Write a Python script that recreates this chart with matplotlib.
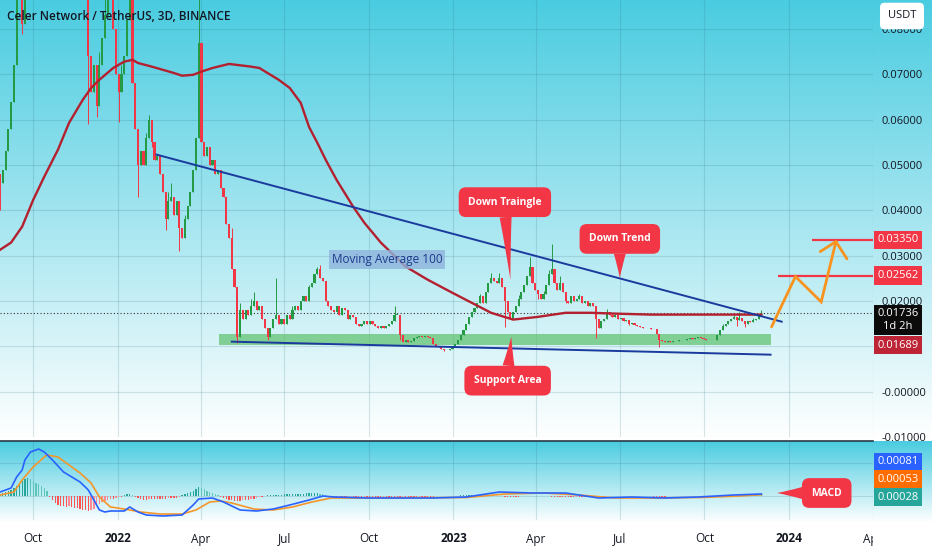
import numpy as np
import pandas as pd
import matplotlib
matplotlib.use("Agg")
import matplotlib.pyplot as plt
import matplotlib.dates as mdates
from matplotlib.transforms import blended_transform_factory
from matplotlib.patches import Rectangle

plt.rcParams["font.family"] = ["Open Sans", "DejaVu Sans"]

# --- data (CELR/USDT, 3D candles from 2021-08-26) ---
start_date = "2021-08-26"
closes = [
    0.046, 0.049, 0.053, 0.058, 0.064, 0.072, 0.088, 0.095, 0.081, 0.094, 0.100,
    0.098, 0.092, 0.095, 0.100, 0.105, 0.110, 0.100, 0.095, 0.092, 0.100,
    0.105, 0.110, 0.120, 0.115, 0.130, 0.150, 0.170, 0.180, 0.175, 0.160, 0.140,
    0.074, 0.066, 0.072, 0.063, 0.072, 0.078, 0.083, 0.090, 0.088, 0.080,
    0.070, 0.066, 0.070, 0.074, 0.082, 0.090, 0.068, 0.058,
    0.050, 0.053, 0.050, 0.056, 0.060, 0.055, 0.051, 0.052, 0.048, 0.044, 0.038,
    0.042, 0.043, 0.039, 0.042, 0.036, 0.034, 0.038, 0.041, 0.044, 0.049, 0.056,
    0.077, 0.055, 0.052, 0.054, 0.050, 0.051, 0.048, 0.049, 0.045, 0.043, 0.037,
    0.034, 0.027, 0.023, 0.012,
    0.018, 0.016, 0.018, 0.017, 0.019, 0.020, 0.018, 0.019, 0.016, 0.014,
    0.012, 0.014, 0.016, 0.017, 0.015, 0.016, 0.015, 0.017, 0.016, 0.018,
    0.019, 0.018, 0.020, 0.021, 0.020, 0.023, 0.024, 0.026, 0.027, 0.025,
    0.0245, 0.020, 0.019, 0.018, 0.0175, 0.019, 0.017, 0.0185, 0.018, 0.016,
    0.017, 0.0165, 0.015, 0.0145, 0.015, 0.0155, 0.015, 0.0155, 0.015, 0.0145,
    0.014, 0.0145, 0.014, 0.0145, 0.015, 0.0155, 0.017,
    0.017, 0.0125, 0.011, 0.0115, 0.0110, 0.0112, 0.0118, 0.0120, 0.0122, 0.0120,
    0.0123, 0.0120, 0.0118, 0.0105, 0.0100, 0.0098, 0.0095, 0.0093, 0.0092,
    0.0095, 0.0100, 0.0105, 0.0115, 0.0125, 0.0135, 0.0150, 0.0165, 0.0175, 0.0185,
    0.0195, 0.0210, 0.0195, 0.0220, 0.0240, 0.0250, 0.0245, 0.0240, 0.0250, 0.0230,
    0.0200, 0.0175, 0.0160, 0.0175, 0.0190, 0.0205, 0.0220, 0.0235, 0.0255, 0.0275,
    0.0240, 0.0225, 0.0215, 0.0205, 0.0215, 0.0235, 0.0260,
    0.0270, 0.0240, 0.0225, 0.0240, 0.0220, 0.0200, 0.0195, 0.0210, 0.0200, 0.0205,
    0.0210, 0.0195, 0.0200, 0.0190, 0.0195, 0.0190, 0.0160, 0.0140, 0.0155, 0.0160,
    0.0175, 0.0170, 0.0165, 0.0170, 0.0160, 0.0162, 0.0155, 0.0158, 0.0150, 0.0152,
    0.0148, 0.0145, 0.0143, 0.0140, 0.0141, 0.0140, 0.0139, 0.0138,
    0.0128, 0.0115, 0.0112, 0.0110, 0.0112, 0.0110, 0.0111, 0.0112, 0.0113, 0.0115,
    0.0114, 0.0116, 0.0118, 0.0117, 0.0119, 0.0120, 0.0118, 0.0117, 0.0115, 0.0114,
    0.0113, 0.0115, 0.0125, 0.0135, 0.0145, 0.0150, 0.0155, 0.0160, 0.0165, 0.0158,
    0.0163, 0.0155, 0.0150, 0.0155, 0.0153, 0.0158, 0.0160, 0.0167, 0.0174,
]
first_open = 0.048
# wicks that reach past the body (candle index -> price)
highs = {6: 0.095, 8: 0.095, 36: 0.075, 38: 0.088, 44: 0.072, 47: 0.095, 53: 0.057,
         54: 0.061, 61: 0.044, 62: 0.046, 67: 0.039, 72: 0.095, 84: 0.036, 87: 0.0195,
         91: 0.0205, 92: 0.022, 100: 0.025, 106: 0.019, 112: 0.0235, 115: 0.0275,
         116: 0.028, 143: 0.019, 174: 0.0215, 178: 0.0262, 181: 0.0262, 188: 0.0213,
         192: 0.0298, 197: 0.0222, 199: 0.0268, 200: 0.0325, 203: 0.0255, 210: 0.0215,
         220: 0.0182, 262: 0.0150, 266: 0.0170, 268: 0.0175, 273: 0.0163, 276: 0.0181}
lows = {0: 0.040, 8: 0.079, 32: 0.059, 35: 0.0605, 43: 0.0595, 50: 0.043, 55: 0.054,
        60: 0.0357, 65: 0.031, 69: 0.042, 86: 0.0107, 97: 0.0115, 145: 0.0115,
        161: 0.0089, 183: 0.0143, 195: 0.0205, 205: 0.0195, 216: 0.0119, 228: 0.0147,
        239: 0.0099, 267: 0.0145, 270: 0.0143}

# Moving Average 100 (candle index -> value)
ma_idx = [0, 4, 8, 12, 16, 21, 25, 30, 33, 36, 41, 45, 48, 50, 55, 59, 63, 66, 70, 73,
          77, 83, 91, 94, 101, 105, 109, 112, 115, 118, 122, 128, 132, 138, 147, 155,
          164, 171, 178, 186, 195, 205, 214, 224, 236, 254, 276]
ma_val = [0.0313, 0.0329, 0.0364, 0.0423, 0.0474, 0.0534, 0.0593, 0.0644, 0.0670, 0.0688,
          0.0714, 0.0728, 0.0732, 0.0725, 0.0717, 0.0710, 0.0703, 0.0697, 0.0699, 0.0706,
          0.0714, 0.0723, 0.0717, 0.0714, 0.0688, 0.0670, 0.0637, 0.0584, 0.0549, 0.0512,
          0.0467, 0.0408, 0.0373, 0.0329, 0.0276, 0.0247, 0.0218, 0.0196, 0.0174, 0.0159,
          0.0165, 0.0174, 0.0174, 0.0172, 0.0170, 0.0170, 0.0170]

# MACD line and signal (candle index -> value)
macd_idx = [0, 4, 6, 8, 9, 11, 13, 14, 16, 19, 23, 26, 29, 32, 35, 36, 38, 40, 45, 47,
            50, 53, 59, 66, 70, 72, 77, 81, 87, 93, 99, 105, 112, 117, 121, 133, 157,
            169, 181, 193, 205, 217, 229, 241, 253, 266, 276]
macd_val = [0.0016, 0.0032, 0.0076, 0.0104, 0.0144, 0.0176, 0.0184, 0.0188, 0.0176, 0.0144,
            0.0096, 0.0076, 0.0056, 0.0024, -0.0036, -0.0056, -0.0064, -0.0060, -0.0060,
            -0.0044, -0.0064, -0.0076, -0.0080, -0.0076, -0.0036, -0.0012, -0.0008, -0.0024,
            -0.0056, -0.0060, -0.0052, -0.0036, -0.0016, 0.0, -0.0004, -0.0008, -0.0008,
            -0.0004, 0.0016, 0.0012, 0.0012, -0.0008, -0.0004, -0.0008, -0.0004, 0.0004,
            0.00081]
signal_idx = [0, 5, 8, 12, 16, 17, 21, 24, 29, 33, 36, 40, 45, 51, 58, 66, 71, 76, 80,
              84, 92, 99, 106, 113, 120, 133, 169, 183, 197, 210, 223, 236, 254, 268, 276]
signal_val = [0.0004, 0.0016, 0.0064, 0.0116, 0.0156, 0.0164, 0.0156, 0.0132, 0.0092,
              0.0052, -0.0004, -0.0044, -0.0052, -0.0064, -0.0072, -0.0072, -0.0056,
              -0.0024, -0.0020, -0.0028, -0.0052, -0.0056, -0.0044, -0.0024, -0.0008,
              -0.0008, -0.0006, 0.0008, 0.0012, 0.0004, -0.0008, -0.0008, -0.0006, 0.0,
              0.00053]
# MACD histogram per candle, in units of 1e-4
hist_e4 = [
    8, 12, 16, 20, 24, 32, 40, 48, 60, 68, 72, 68, 60, 52, 48, 40, 32, 20,
    -4, -16, -28, -36, -40, -40, -44, -40, -44, -48, -48, -52, -56, -56, -60, -56, -52,
    -40, -32, -24, -20, -16, -12, -12, -8, -4, -4,
    4, 8, 8, 4, -4,
    -8, -12, -16, -16, -12, -12, -12, -12, -12, -12, -12, -8, -8, -8, -8, -4,
    4, 8, 12, 16, 20, 28, 36, 32, 28, 20, 16, 12, 8, 4,
    -4, -8, -12, -16, -16, -20, -20, -20, -16, -16, -16, -12, -12, -8, -4, -4, 2,
    4, 4, 4, 6, 6, 6, 8, 8, 8, 8, 8, 8, 10, 10, 12, 12, 12, 12, 12, 10, 8, 4, 2,
    -2, -4, -4, -4, -6, -6, -6, -4, -4, -4, -4, -4, -2, -2, -4, -4, -4, -4, -4, -2,
    -2, -2, -4, -4, -4, -4, -2, -2, -2, -4, -4, -4, -2, -2, -2, -2, -2, -2, -1, -1,
    -1, -1, -1, 1, 1, 2,
    2, 3, 4, 4, 5, 5, 4, 4, 4, 3, 3, 2, 2, 2, 1, 1,
    -1, -2, -2, -2, -2, -2, -2, -1, -1, 1, 2, 2, 2, 1, 1, 1, -1, -1, -2,
    -2, -2, -3, -3, -3, -3, -3, -3, -2, -2, -2, -2, -2, -2, -2, -2, -2, -2, -2, -1,
    -1, -1, -1, -1, -1, -0.5, -0.5, 0.5, 0.5, 0.5,
    0.5, 0.5, 0.5, -0.5, -1, -1, -2, -2, -2, -2, -2, -1, -1, -1, -1, -0.5, -0.5, 0.5,
    0.5, 1, 1, 1, 1, 1, 1, 1, 1, 1, 1, 1,
    1, 1.5, 1.5, 1.5, 2, 2, 2, 2, 2, 2, 2.5, 2.5, 2.5, 2.8, 2.8, 2.8,
]

# drawings on the chart
upper_trend = (["2022-02-12", "2023-12-24"], [0.0523, 0.01544])
lower_trend = (["2022-05-05", "2023-12-12"], [0.01103, 0.00816])
support_zone = ("2022-04-21", "2023-12-12", 0.01036, 0.01279)
targets = [("2024-01-26", 0.03350), ("2023-12-20", 0.02562)]
path_dates = ["2023-12-13", "2024-01-08", "2024-02-05", "2024-02-21"]
path_prices = [0.0143, 0.0254, 0.0198, 0.0331]
head_dates = ["2024-02-04", "2024-02-21", "2024-03-04"]
head_prices = [0.0309, 0.0331, 0.0293]
last_price = 0.01736

# --- derived candle fields ---
n = len(closes)
dates = mdates.date2num(pd.date_range(start_date, periods=n, freq="3D").to_pydatetime())
closes = np.array(closes)
opens = np.r_[first_open, closes[:-1]]
hi = np.array([max(opens[i], closes[i], highs.get(i, 0)) for i in range(n)])
lo = np.array([min(opens[i], closes[i], lows.get(i, 1)) for i in range(n)])
up = closes >= opens

def d(s):
    return mdates.date2num(pd.Timestamp(s).to_pydatetime())

W, H = 932, 550
RED = "#f23645"
GREEN = "#249a45"
INK = "#131722"

fig = plt.figure(figsize=(W / 100, H / 100), dpi=100)

# gradient background (both panes fade from cyan to white)
cyan = np.array([0.29, 0.80, 0.88])
white = np.ones(3)
rows = np.ones((H, 1, 3))
for r in range(H):
    if r <= 437:
        t = r / 437
    elif 441 <= r <= 522:
        t = (r - 441) / 81
    else:
        t = 1.0
    rows[r, 0] = cyan * (1 - t) + white * t
bg = fig.add_axes([0, 0, 1, 1], zorder=-10)
bg.imshow(rows, extent=[0, 1, 0, 1], aspect="auto")
bg.axis("off")

def frac(x0, y0, x1, y1):
    return [x0 / W, 1 - y1 / H, (x1 - x0) / W, (y1 - y0) / H]

ax = fig.add_axes(frac(0, 0, 873, 437))
mx = fig.add_axes(frac(0, 441, 873, 520), sharex=ax)
for a in (ax, mx):
    a.set_facecolor("none")
    for s in a.spines.values():
        s.set_visible(False)

xmin, xmax = d("2021-08-25 22:00"), d("2024-04-01 08:00")
ax.set_xlim(xmin, xmax)
ax.set_ylim(-0.00992, 0.0864)

month_ticks = [d(s) for s in ["2021-10-01", "2022-01-01", "2022-04-01", "2022-07-01",
                              "2022-10-01", "2023-01-01", "2023-04-01", "2023-07-01",
                              "2023-10-01", "2024-01-01", "2024-04-01"]]
month_labels = ["Oct", "2022", "Apr", "Jul", "Oct", "2023", "Apr", "Jul", "Oct", "2024", "Apr"]

price_ticks = np.arange(-0.01, 0.085, 0.01)
# 0.01000 sits under the last-price labels, so it stays blank
tick_text = ["-0.01000", "-0.00000", ""] + ["%.5f" % v for v in price_ticks[3:]]
ax.set_yticks(price_ticks)
ax.set_yticklabels(tick_text)
ax.yaxis.tick_right()
ax.tick_params(axis="y", length=0, pad=6, labelsize=8, labelcolor=INK)
ax.tick_params(axis="x", length=0, labelbottom=False)
ax.set_xticks(month_ticks)
ax.grid(True, color="#2f6f80", alpha=0.18, lw=0.8)
ax.set_axisbelow(True)

# candles
cols = np.where(up, GREEN, RED)
ax.vlines(dates, lo, hi, colors=cols, lw=0.7, zorder=3)
body = np.where(np.abs(closes - opens) < 0.00008, 0.00008, closes - opens)
ax.bar(dates, body, bottom=opens, width=2.3, color=cols, lw=0, zorder=3)

# moving average 100
ax.plot(dates[ma_idx], ma_val, color="#b3202f", lw=1.7, zorder=4)
ax.text(d("2022-10-21"), 0.0292, "Moving Average 100", ha="center", va="center",
        fontsize=8.5, color="#1c3a8c", zorder=5,
        bbox=dict(boxstyle="square,pad=0.25", fc="#8fb4dc", ec="none", alpha=0.8))

# trend lines and support zone
ax.plot([d(s) for s in upper_trend[0]], upper_trend[1], color="#1a3a9e", lw=1.4, zorder=4)
ax.plot([d(s) for s in lower_trend[0]], lower_trend[1], color="#1a3a9e", lw=1.4, zorder=4)
z0, z1, zlo, zhi = support_zone
ax.add_patch(Rectangle((d(z0), zlo), d(z1) - d(z0), zhi - zlo, fc="#5cc06c", ec="none",
                       alpha=0.7, zorder=2))

# current price line
ax.axhline(last_price, color="#333333", lw=0.8, ls=(0, (1, 2)), zorder=2)

# targets and projected path
for td, tp in targets:
    ax.hlines(tp, d(td), xmax, color=RED, lw=1.6, zorder=4)
ax.plot([d(s) for s in path_dates], path_prices, color="#f7931e", lw=2.0,
        solid_capstyle="round", solid_joinstyle="miter", zorder=5)
ax.plot([d(s) for s in head_dates], head_prices, color="#f7931e", lw=2.0,
        solid_capstyle="round", zorder=5)

# callouts
def callout(a, text, tip, box, rel):
    a.annotate(text, xy=(d(tip[0]), tip[1]), xytext=(d(box[0]), box[1]),
               ha="center", va="center", color="white", fontsize=7.5, fontweight="bold",
               zorder=6, annotation_clip=False,
               bbox=dict(boxstyle="round,pad=0.9,rounding_size=0.7", fc=RED, ec="none"),
               arrowprops=dict(arrowstyle="wedge,tail_width=1.15,shrink_factor=0.45",
                               fc=RED, ec="none", relpos=rel, shrinkA=0, shrinkB=0))

callout(ax, "Down Traingle", ("2023-03-04", 0.0247), ("2023-02-26", 0.0418), (0.5, 0.0))
callout(ax, "Down Trend", ("2023-07-01", 0.0251), ("2023-07-01", 0.0337), (0.5, 0.0))
callout(ax, "Support Area", ("2023-03-05", 0.0121), ("2023-03-01", 0.00243), (0.5, 1.0))

# price scale labels
bt = blended_transform_factory(ax.transAxes, ax.transData)
for td, tp in targets:
    ax.text(1.0286, tp, "%.5f" % tp, transform=bt, ha="center", va="center", fontsize=8,
            color="white", zorder=6,
            bbox=dict(boxstyle="square,pad=0.32", fc=RED, ec="none"))
fig.text(898 / W, 1 - 320 / H, "0.01736\n1d 2h", ha="center", va="center",
         fontsize=8, color="white", zorder=6, linespacing=1.15,
         bbox=dict(boxstyle="square,pad=0.28", fc="#0b0b0b", ec="none"))
fig.text(898 / W, 1 - 345 / H, "0.01689", ha="center", va="center", fontsize=8,
         color="white", zorder=6, bbox=dict(boxstyle="square,pad=0.3", fc="#bd2536", ec="none"))
fig.text(902 / W, 1 - 16 / H, "USDT", ha="center", va="center", fontsize=8, color=INK,
         zorder=7, bbox=dict(boxstyle="round,pad=0.7,rounding_size=0.4", fc="white", ec="none"))

# title
fig.text(7 / W, 1 - 16 / H, "Celer Network / TetherUS, 3D, BINANCE", ha="left", va="center",
         fontsize=8.5, fontweight="semibold", color=INK)

# --- MACD pane ---
mx.set_ylim(-0.0096, 0.022)
mx.set_yticks([0.0, 0.0132])
mx.tick_params(axis="y", length=0, labelleft=False, labelright=False)
mx.grid(True, color="#2f6f80", alpha=0.18, lw=0.8)
mx.set_axisbelow(True)
mx.spines["top"].set_visible(True)
mx.spines["top"].set_color("#2a3a44")
mx.spines["top"].set_linewidth(1.2)

hist = np.array(hist_e4) * 1e-4
prev = np.r_[0, hist[:-1]]
hcol = np.where(hist >= 0, np.where(hist >= prev, "#26a69a", "#5cc4b9"),
                np.where(hist <= prev, "#ff5252", "#ff8a93"))
mx.bar(dates, hist, width=1.4, color=hcol, lw=0, zorder=2)
mx.plot(dates[signal_idx], signal_val, color="#f5962a", lw=1.2, zorder=3)
mx.plot(dates[macd_idx], macd_val, color="#2962ff", lw=1.2, zorder=4)

callout(mx, "MACD", ("2023-12-19", 0.0012), ("2024-02-11", 0.0012), (0.0, 0.5))

for yy, txt, fc in [(462, "0.00081", "#2962ff"), (479, "0.00053", "#ff6d00"),
                    (497, "0.00028", "#26a69a")]:
    fig.text(898 / W, 1 - yy / H, txt, ha="center", va="center", fontsize=8, color="white",
             zorder=6, bbox=dict(boxstyle="square,pad=0.3", fc=fc, ec="none"))

mx.set_xticks(month_ticks)
mx.set_xticklabels(month_labels)
for lab in mx.get_xticklabels():
    if lab.get_text().isdigit():
        lab.set_fontweight("bold")
mx.tick_params(axis="x", length=0, pad=9, labelsize=8.5, labelcolor=INK)

# price-scale strip covers the clipped last date label
fig.patches.append(Rectangle((873 / W, 0), 59 / W, 28 / H, transform=fig.transFigure,
                             fc="white", ec="none", zorder=8))

fig.savefig("out.png", dpi=100)
